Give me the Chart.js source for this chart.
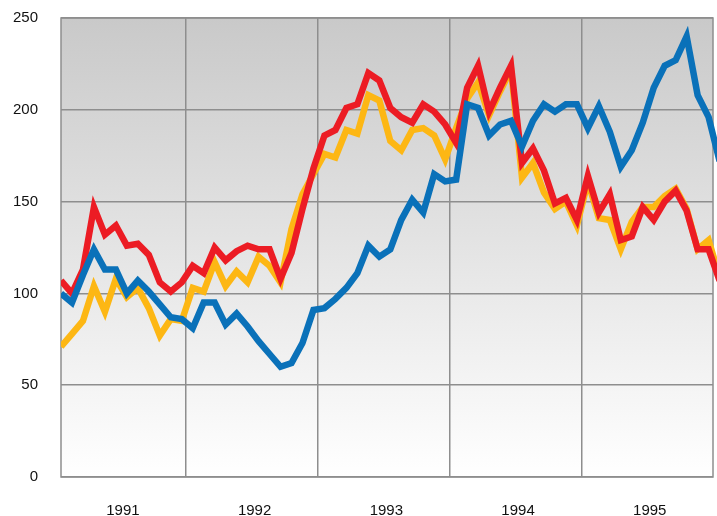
<!DOCTYPE html>
<html>
<head>
<meta charset="utf-8">
<script src="https://cdn.jsdelivr.net/npm/chart.js@4"></script>
<style>
html,body{margin:0;padding:0;background:#fff;}
#wrap{width:717px;height:516px;}
</style>
</head>
<body>
<div id="wrap"><canvas id="c" width="717" height="516"></canvas></div>
<script>
// ---- data ----
const years = [1991, 1992, 1993, 1994, 1995];
const yearLabels = ['1991', '1992', '1993', '1994', '1995'];
const yTicks = [0, 50, 100, 150, 200, 250];
// monthly observations, Jan 1991 .. Jan 1996
const months = [];
for (let y = 1991; y <= 1996; y++) {
  for (let m = 1; m <= 12; m++) {
    if (y === 1996 && m > 1) break;
    months.push(y + '-' + String(m).padStart(2, '0'));
  }
}
const seriesBlue = [100,95,110,124,113,113,100,107,101,94,87,86,
  81,95,95,83,89,82,74,67,60,62,73,91,
  92,97,103,111,126,120,124,140,151,144,165,161,
  162,203,201,186,192,194,180,194,203,199,203,203,
  190,202,188,169,178,193,212,224,227,240,208,196,
  172];
const seriesRed = [107,100,113,147,132,137,126,127,121,106,101,106,
  115,111,125,118,123,126,124,124,108,122,146,168,
  186,189,201,203,220,216,201,196,193,203,199,192,
  182,212,224,199,212,224,171,179,167,149,152,140,
  164,144,154,129,131,147,140,150,156,145,124,124,
  107];
const seriesYellow = [71,78,85,104,90,108,98,103,92,77,86,85,
  103,101,117,104,112,106,120,115,106,135,154,165,
  176,174,189,187,208,205,183,178,189,190,186,173,
  190,206,215,197,210,222,163,171,155,146,150,137,
  161,141,140,124,139,147,147,153,157,146,124,129,
  109];

// ---- helpers ----
function monthPos(s) {
  const [y, m] = s.split('-').map(Number);
  return y + (m - 0.4) / 12;
}
function toPoints(vals) {
  return vals.map((v, i) => ({ x: monthPos(months[i]), y: v }));
}

const GRID = '#8e8e8e';

const bgPlugin = {
  id: 'bg',
  beforeDraw(chart) {
    const { ctx, chartArea: a } = chart;
    ctx.save();
    ctx.fillStyle = '#ffffff';
    ctx.fillRect(0, 0, chart.width, chart.height);
    const g = ctx.createLinearGradient(0, a.top, 0, a.bottom);
    g.addColorStop(0, '#c9c9c9');
    g.addColorStop(1, '#ffffff');
    ctx.fillStyle = g;
    ctx.fillRect(a.left, a.top, a.right - a.left, a.bottom - a.top);
    ctx.restore();
  },
  beforeDatasetsDraw(chart) {
    const { ctx, chartArea: a } = chart;
    ctx.save();
    ctx.strokeStyle = GRID;
    ctx.lineWidth = 1.5;
    ctx.strokeRect(a.left, a.top, a.right - a.left, a.bottom - a.top);
    ctx.restore();
  }
};

const font = { family: '"Liberation Sans", Arial, Helvetica, sans-serif', size: 15 };
const clip = { left: 0, top: 4, right: 4, bottom: 0 };

new Chart(document.getElementById('c'), {
  type: 'line',
  data: {
    datasets: [
      { data: toPoints(seriesBlue), borderColor: '#0a71b9', borderWidth: 6.5, pointRadius: 0, tension: 0, clip },
      { data: toPoints(seriesRed), borderColor: '#ec1c24', borderWidth: 6.5, pointRadius: 0, tension: 0, clip },
      { data: toPoints(seriesYellow), borderColor: '#fdb714', borderWidth: 6.5, pointRadius: 0, tension: 0, clip }
    ]
  },
  options: {
    responsive: false,
    animation: false,
    events: [],
    layout: { padding: { top: 18, right: 4, left: 0, bottom: 0 } },
    plugins: { legend: { display: false }, tooltip: { enabled: false } },
    scales: {
      x: {
        type: 'linear',
        min: 1991.05,
        max: 1996.0,
        afterBuildTicks(scale) {
          const t = [];
          years.slice(1).forEach(y => t.push({ value: y }));
          years.forEach(y => t.push({ value: y + 0.52 }));
          scale.ticks = t;
        },
        afterFit(scale) { scale.height = 39; scale.paddingLeft = 0; scale.paddingRight = 0; },
        grid: {
          color: (c) => (c.tick && Number.isInteger(c.tick.value)) ? GRID : 'rgba(0,0,0,0)',
          lineWidth: 1.5,
          drawTicks: false
        },
        border: { display: false },
        ticks: {
          autoSkip: false,
          maxRotation: 0,
          padding: 25,
          color: '#111',
          font: font,
          callback: (v) => {
            const i = years.indexOf(Math.round(v - 0.52));
            return Number.isInteger(v) || i < 0 ? '' : yearLabels[i];
          }
        }
      },
      y: {
        min: 0,
        max: 250,
        afterBuildTicks(scale) { scale.ticks = yTicks.map(v => ({ value: v })); },
        afterFit(scale) { scale.width = 61; scale.paddingTop = 0; scale.paddingBottom = 0; },
        grid: { color: GRID, lineWidth: 1.5, drawTicks: false },
        border: { display: false },
        ticks: { padding: 23, color: '#111', font: font }
      }
    }
  },
  plugins: [bgPlugin]
});
</script>
</body>
</html>
